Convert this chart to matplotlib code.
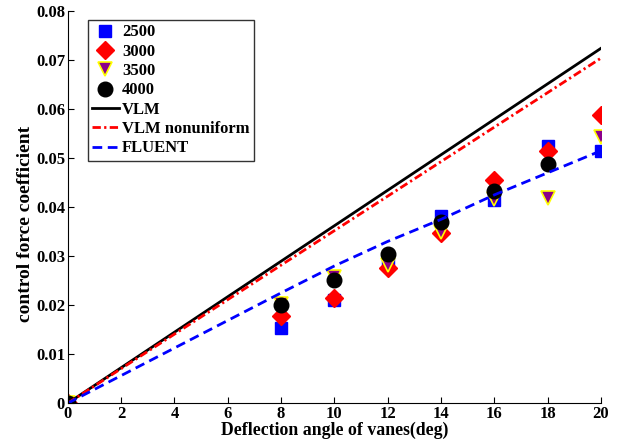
import matplotlib
matplotlib.use('Agg')
import matplotlib.pyplot as plt
import numpy as np

# data
angles = [0, 8, 10, 12, 14, 16, 18, 20]
cf_2500 = [0.0, 0.0153, 0.0210, 0.0285, 0.0382, 0.0414, 0.0524, 0.0515]
cf_3000 = [0.0, 0.0178, 0.0214, 0.0275, 0.0348, 0.0455, 0.0514, 0.0588]
cf_3500 = [0.0, 0.0203, 0.0258, 0.0282, 0.0350, 0.0416, 0.0419, 0.0543]
angles_4000 = [0, 8, 10, 12, 14, 16, 18]
cf_4000 = [0.0, 0.0200, 0.0252, 0.0304, 0.0370, 0.0433, 0.0489]

line_x = [0, 2, 4, 6, 8, 10, 12, 14, 16, 18, 20]
vlm = [0.0, 0.00724, 0.01448, 0.02172, 0.02896, 0.0362, 0.04344, 0.05068, 0.05792, 0.06516, 0.0724]
vlm_nonuni = [0.0, 0.00704, 0.01408, 0.02112, 0.02816, 0.0352, 0.04224, 0.04928, 0.05632, 0.06336, 0.0704]
fluent_x = [0, 8, 10, 12, 14, 16, 18, 20]
fluent = [0.0, 0.0225, 0.0280, 0.0330, 0.0375, 0.0425, 0.0470, 0.0515]

plt.rcParams['font.family'] = ['Liberation Serif', 'DejaVu Serif']
plt.rcParams['font.weight'] = 'bold'

fig = plt.figure(figsize=(6.22, 4.46), dpi=100)
ax = fig.add_axes([0.109, 0.096, 0.857, 0.879])

ax.plot(angles, cf_2500, 's', color='blue', markersize=8.5, label='2500')
ax.plot(angles, cf_3000, 'D', color='red', markersize=9, label='3000')
ax.plot(angles, cf_3500, 'v', color='#8b008b', markeredgecolor='yellow',
        markeredgewidth=1.2, markersize=10.5, label='3500')
ax.plot(angles_4000, cf_4000, 'o', color='black', markersize=10.5, label='4000')
ax.plot(line_x, vlm, '-', color='black', lw=2, label='VLM')
ax.plot(line_x, vlm_nonuni, '-.', color='red', lw=2, dashes=(3, 1.2, 0.8, 1.2),
        label='VLM nonuniform')
ax.plot(fluent_x, fluent, '--', color='blue', lw=2, dashes=(3.5, 2), label='FLUENT')

ax.set_xlim(0, 20)
ax.set_ylim(0, 0.08)
ax.set_xticks(np.arange(0, 21, 2))
ax.set_yticks([0, 0.01, 0.02, 0.03, 0.04, 0.05, 0.06, 0.07, 0.08])
ax.set_yticklabels(['0', '0.01', '0.02', '0.03', '0.04', '0.05', '0.06', '0.07', '0.08'])
ax.tick_params(direction='in', labelsize=12, length=4, pad=2)
for lab in ax.get_xticklabels() + ax.get_yticklabels():
    lab.set_fontweight('bold')
ax.spines['top'].set_visible(False)
ax.spines['right'].set_visible(False)

ax.set_xlabel('Deflection angle of vanes(deg)', fontsize=12.8, fontweight='bold', labelpad=0)
ax.set_ylabel('control force coefficient', fontsize=14, fontweight='bold')
ax.yaxis.set_label_coords(-0.064, 0.457)

leg = ax.legend(loc='upper left', bbox_to_anchor=(0.0375, 0.977), fontsize=12,
                fancybox=False, edgecolor='black', handlelength=1.6,
                borderpad=0.25, labelspacing=0.2, handletextpad=0.2,
                borderaxespad=0.0)
leg.get_frame().set_linewidth(1.0)
for t in leg.get_texts():
    t.set_fontweight('bold')

plt.savefig('out.png', dpi=100)
